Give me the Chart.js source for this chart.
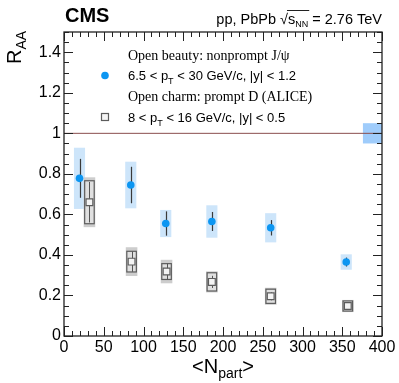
<!DOCTYPE html>
<html>
<head>
<meta charset="utf-8">
<script src="https://cdn.jsdelivr.net/npm/chart.js@4/dist/chart.umd.min.js"></script>
<style>
	html, body { margin: 0; padding: 0; background: #fff; }
	canvas { display: block; }
</style>
</head>
<body>
<canvas id="raaChart" width="399" height="383"></canvas>
<script>
(() => {
	'use strict'

	// open beauty: nonprompt J/psi (CMS)
	const beautyNpart = [19.5, 84, 128, 186, 260, 355];
	const beautyRaa = [0.778, 0.745, 0.555, 0.565, 0.534, 0.365];
	const beautyStat = [0.096, 0.09, 0.06, 0.047, 0.038, 0.022];
	const beautySyst = [0.151, 0.115, 0.067, 0.08, 0.072, 0.038];

	// open charm: prompt D (ALICE)
	const charmNpart = [32, 85, 129, 186, 260, 357];
	const charmRaa = [0.66, 0.367, 0.318, 0.267, 0.196, 0.148];
	const charmStat = [0.1, 0.05, 0.039, 0.03, 0.02, 0.012];
	const charmSyst = [0.106, 0.051, 0.039, 0.045, 0.035, 0.025];
	const charmSystOuter = [0.123, 0.071, 0.058, 0.052, 0.042, 0.03];

	const globalUnc = 0.05;
	const xTicks = [0, 50, 100, 150, 200, 250, 300, 350, 400];
	const yTicks = [0, 0.2, 0.4, 0.6, 0.8, 1, 1.2, 1.4];

	const blue = '#0c96f2';
	const blueBox = '#cde5fa';
	const sans = '"Liberation Sans", Arial, sans-serif';
	const serif = '"Liberation Serif", "Times New Roman", serif';

	function toPoints(xs, ys) {
		return xs.map((x, i) => ({ x: x, y: ys[i] }));
	}

	function rectFor(chart, x, halfW, lo, hi) {
		const sx = chart.scales.x;
		const sy = chart.scales.y;
		const x0 = sx.getPixelForValue(x - halfW);
		const x1 = sx.getPixelForValue(x + halfW);
		const y0 = sy.getPixelForValue(hi);
		const y1 = sy.getPixelForValue(lo);
		return [x0, y0, x1 - x0, y1 - y0];
	}

	const boxesPlugin = {
		id: 'boxes',
		beforeDatasetsDraw(chart) {
			const ctx = chart.ctx;
			const sx = chart.scales.x;
			const sy = chart.scales.y;
			ctx.save();

			// global uncertainty box at unity
			ctx.fillStyle = '#9fccfb';
			ctx.fillRect(...rectFor(chart, 388, 12, 1 - globalUnc, 1 + globalUnc));

			beautyNpart.forEach((x, i) => {
				ctx.fillStyle = blueBox;
				ctx.fillRect(...rectFor(chart, x, 7, beautyRaa[i] - beautySyst[i], beautyRaa[i] + beautySyst[i]));
			});

			charmNpart.forEach((x, i) => {
				ctx.fillStyle = '#cdcdcd';
				ctx.fillRect(...rectFor(chart, x, 7.3, charmRaa[i] - charmSystOuter[i], charmRaa[i] + charmSystOuter[i]));
				const r = rectFor(chart, x, 6, charmRaa[i] - charmSyst[i], charmRaa[i] + charmSyst[i]);
				ctx.fillStyle = '#e0e0e0';
				ctx.fillRect(...r);
				ctx.strokeStyle = '#5c5c5c';
				ctx.lineWidth = 1.2;
				ctx.strokeRect(...r);
			});

			// statistical error bars
			ctx.lineWidth = 1.2;
			ctx.strokeStyle = '#3a3a3a';
			beautyNpart.forEach((x, i) => {
				const px = Math.round(sx.getPixelForValue(x)) + 0.5;
				ctx.beginPath();
				ctx.moveTo(px, sy.getPixelForValue(beautyRaa[i] + beautyStat[i]));
				ctx.lineTo(px, sy.getPixelForValue(beautyRaa[i] - beautyStat[i]));
				ctx.stroke();
			});
			ctx.lineWidth = 1;
			ctx.strokeStyle = '#555';
			charmNpart.forEach((x, i) => {
				const px = Math.round(sx.getPixelForValue(x)) + 0.5;
				ctx.beginPath();
				ctx.moveTo(px, sy.getPixelForValue(charmRaa[i] + charmStat[i]));
				ctx.lineTo(px, sy.getPixelForValue(charmRaa[i] - charmStat[i]));
				ctx.stroke();
			});
			ctx.restore();
		}
	};

	function drawParts(ctx, x, y, parts) {
		// parts: [text, font, dy]
		parts.forEach((p) => {
			ctx.font = p[1];
			ctx.fillText(p[0], x, y + (p[2] || 0));
			x += ctx.measureText(p[0]).width;
		});
		return x;
	}

	function partsWidth(ctx, parts) {
		let w = 0;
		parts.forEach((p) => {
			ctx.font = p[1];
			w += ctx.measureText(p[0]).width;
		});
		return w;
	}

	const framePlugin = {
		id: 'frame',
		afterDraw(chart) {
			const ctx = chart.ctx;
			const a = chart.chartArea;
			const sx = chart.scales.x;
			const sy = chart.scales.y;
			ctx.save();

			// inward ticks on all four sides
			ctx.strokeStyle = '#222';
			ctx.lineWidth = 1;
			ctx.beginPath();
			for (let v = 0; v <= 400; v += 10) {
				const len = v % 50 === 0 ? 9 : 5;
				const px = Math.round(sx.getPixelForValue(v)) + 0.5;
				ctx.moveTo(px, a.bottom);
				ctx.lineTo(px, a.bottom - len);
				ctx.moveTo(px, a.top);
				ctx.lineTo(px, a.top + len);
			}
			for (let k = 0; k <= 30; k++) {
				const v = k * 0.05;
				const len = k % 4 === 0 ? 9 : 5;
				const py = Math.round(sy.getPixelForValue(v)) + 0.5;
				ctx.moveTo(a.left, py);
				ctx.lineTo(a.left + len, py);
				ctx.moveTo(a.right, py);
				ctx.lineTo(a.right - len, py);
			}
			ctx.stroke();

			ctx.lineWidth = 1.3;
			ctx.strokeRect(a.left, a.top, a.right - a.left, a.bottom - a.top);

			ctx.fillStyle = '#000';
			ctx.textBaseline = 'alphabetic';
			ctx.textAlign = 'left';

			// CMS label and energy
			ctx.font = 'bold 20px ' + sans;
			ctx.fillText('CMS', 65, 22);

			const energy = [
				['pp, PbPb ', '14.5px ' + sans],
				['\u221A', '14.5px ' + sans],
				['s', '14.5px ' + sans],
				['NN', '9px ' + sans, 3],
				[' = 2.76 TeV', '14.5px ' + sans]
			];
			const ew = partsWidth(ctx, energy);
			const ex = 382 - ew;
			ctx.font = '14.5px ' + sans;
			const pre = ctx.measureText('pp, PbPb \u221A').width;
			drawParts(ctx, ex, 24, energy);
			const ovStart = ex + pre - 1;
			ctx.font = '14.5px ' + sans;
			const sW = ctx.measureText('s').width;
			ctx.font = '9px ' + sans;
			const nW = ctx.measureText('NN').width;
			ctx.lineWidth = 1;
			ctx.beginPath();
			ctx.moveTo(ovStart, 10.5);
			ctx.lineTo(ovStart + sW + nW + 2, 10.5);
			ctx.stroke();

			// axis titles
			const xt = [
				['<N', '20px ' + sans],
				['part', '14px ' + sans, 5],
				['>', '20px ' + sans]
			];
			drawParts(ctx, (a.left + a.right) / 2 - partsWidth(ctx, xt) / 2, 373, xt);

			ctx.save();
			ctx.translate(21, 64);
			ctx.rotate(-Math.PI / 2);
			drawParts(ctx, 0, 0, [['R', '20px ' + sans], ['AA', '14px ' + sans, 5]]);
			ctx.restore();

			// legend
			ctx.font = '14px ' + serif;
			ctx.fillText('Open beauty: nonprompt J/\u03C8', 128, 60);
			ctx.fillText('Open charm: prompt D (ALICE)', 128, 101);
			drawParts(ctx, 128, 80, [
				['6.5 < p', '13px ' + sans],
				['T', '9px ' + sans, 4],
				[' < 30 GeV/c, |y| < 1.2', '13px ' + sans]
			]);
			drawParts(ctx, 128, 122, [
				['8 < p', '13px ' + sans],
				['T', '9px ' + sans, 4],
				[' < 16 GeV/c, |y| < 0.5', '13px ' + sans]
			]);
			ctx.fillStyle = blue;
			ctx.beginPath();
			ctx.arc(105, 75.5, 3.8, 0, Math.PI * 2);
			ctx.fill();
			ctx.fillStyle = '#f4f4f4';
			ctx.strokeStyle = '#5c5c5c';
			ctx.lineWidth = 1.2;
			ctx.fillRect(101.5, 113.5, 7, 7);
			ctx.strokeRect(101.5, 113.5, 7, 7);

			ctx.restore();
		}
	};

	new Chart(document.getElementById('raaChart'), {
		type: 'scatter',
		data: {
			datasets: [
				{
					type: 'line',
					data: [{ x: 0, y: 1 }, { x: 400, y: 1 }],
					borderColor: '#8a4e4e',
					borderWidth: 1,
					pointRadius: 0
				},
				{
					label: 'Open charm',
					data: toPoints(charmNpart, charmRaa),
					pointStyle: 'rect',
					pointRadius: 4.8,
					backgroundColor: '#f4f4f4',
					borderColor: '#5c5c5c',
					borderWidth: 1.2
				},
				{
					label: 'Open beauty',
					data: toPoints(beautyNpart, beautyRaa),
					pointStyle: 'circle',
					pointRadius: 3.8,
					backgroundColor: blue,
					borderColor: blue,
					borderWidth: 0
				}
			]
		},
		options: {
			responsive: false,
			animation: false,
			devicePixelRatio: 1,
			layout: { padding: { top: 32, right: 17, left: 0, bottom: 0 } },
			plugins: {
				legend: { display: false },
				tooltip: { enabled: false }
			},
			scales: {
				x: {
					type: 'linear',
					min: 0,
					max: 400,
					afterBuildTicks: (scale) => { scale.ticks = xTicks.map((v) => ({ value: v })); },
					afterFit: (scale) => { scale.height = 47; },
					ticks: { color: '#000', font: { family: sans, size: 16 }, padding: 2, maxRotation: 0 },
					grid: { display: false, drawTicks: false },
					border: { display: false }
				},
				y: {
					min: 0,
					max: 1.5,
					afterBuildTicks: (scale) => { scale.ticks = yTicks.map((v) => ({ value: v })); },
					afterFit: (scale) => { scale.width = 64; },
					ticks: {
						color: '#000',
						font: { family: sans, size: 16 },
						padding: 3,
						callback: (v) => String(Math.round(v * 10) / 10)
					},
					grid: { display: false, drawTicks: false },
					border: { display: false }
				}
			}
		},
		plugins: [boxesPlugin, framePlugin]
	});
})()
</script>
</body>
</html>
